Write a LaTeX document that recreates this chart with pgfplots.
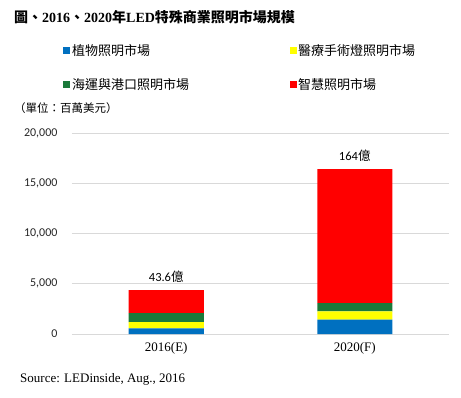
\documentclass[border=0pt]{standalone}
\usepackage{fontspec}
\usepackage{pgfplots}
\pgfplotsset{compat=1.18}
\setmainfont{Liberation Serif}
\newfontfamily\cjk{Noto Sans CJK TC}
\newfontfamily\carl{Carlito}
\definecolor{cblue}{HTML}{0070C0}
\definecolor{cyellow}{HTML}{FFFF00}
\definecolor{cgreen}{HTML}{1A7A3A}
\definecolor{cred}{HTML}{FF0000}
\definecolor{gridc}{HTML}{D9D9D9}
\begin{document}
\begin{tikzpicture}[x=1pt,y=1pt]
\begin{axis}[
  name=ax,
  scale only axis, width=377pt, height=201pt,
  ybar stacked, bar width=75pt,
  xmin=-0.5, xmax=1.5, ymin=0, ymax=20000,
  axis line style={draw=none},
  ymajorgrids, grid style={gridc, line width=0.8pt},
  ytick={0,5000,10000,15000,20000},
  xtick={0,1}, xticklabels={2016(E),2020(F)},
  major tick length=0pt,
  scaled y ticks=false,
  /pgf/number format/.cd, 1000 sep={,}, assume math mode=true,
  /pgfplots/.cd,
  yticklabel style={font=\carl\fontsize{12}{14}\selectfont, text=black!85, xshift=-11pt},
  xticklabel style={font=\fontsize{13}{15}\selectfont, yshift=-5pt},
  clip=false,
]
\addplot[fill=cblue, draw=none] coordinates {(0,550) (1,1440)};
\addplot[fill=cyellow, draw=none] coordinates {(0,620) (1,800)};
\addplot[fill=cgreen, draw=none] coordinates {(0,900) (1,830)};
\addplot[fill=cred, draw=none] coordinates {(0,2290) (1,13330)};
\node[font=\carl\fontsize{12.5}{14}\selectfont, anchor=south, inner sep=0pt] at (axis cs:0,4360) [yshift=8pt] {43.6{\cjk 億}};
\node[font=\carl\fontsize{12.5}{14}\selectfont, anchor=south, inner sep=0pt] at (axis cs:1,16400) [yshift=8pt] {164{\cjk 億}};
\coordinate (O) at (rel axis cs:0,0);
\end{axis}
\begin{scope}[shift={(O)}]
\node[anchor=west,inner sep=0,font=\bfseries\fontsize{14}{16}\selectfont] at (-58,317) {{\cjk 圖、}2016{\cjk 、}2020{\cjk 年}LED{\cjk 特殊商業照明市場規模}};
% legend
\fill[cblue] (-9,286.5) rectangle (-2,279.5);
\node[anchor=west,inner sep=0,font=\cjk\fontsize{13}{15}\selectfont] at (0,283) {植物照明市場};
\fill[cyellow] (218,286.5) rectangle (225,279.5);
\node[anchor=west,inner sep=0,font=\cjk\fontsize{13}{15}\selectfont] at (226,283) {醫療手術燈照明市場};
\fill[cgreen] (-9,252.5) rectangle (-2,245.5);
\node[anchor=west,inner sep=0,font=\cjk\fontsize{13}{15}\selectfont] at (0,249) {海運與港口照明市場};
\fill[cred] (218,252.5) rectangle (225,245.5);
\node[anchor=west,inner sep=0,font=\cjk\fontsize{13}{15}\selectfont] at (226,249) {智慧照明市場};
\node[anchor=west,inner sep=0,font=\cjk\fontsize{11.5}{13}\selectfont] at (-58,226) {（單位：百萬美元）};
\node[anchor=west,inner sep=0,font=\fontsize{13}{15}\selectfont] at (-52,-45) {Source: LEDinside, Aug., 2016};
\end{scope}
\pgfresetboundingbox
\path[use as bounding box] ([shift={(-72,334)}]O) rectangle ([shift={(389,-63)}]O);
\end{tikzpicture}
\end{document}
